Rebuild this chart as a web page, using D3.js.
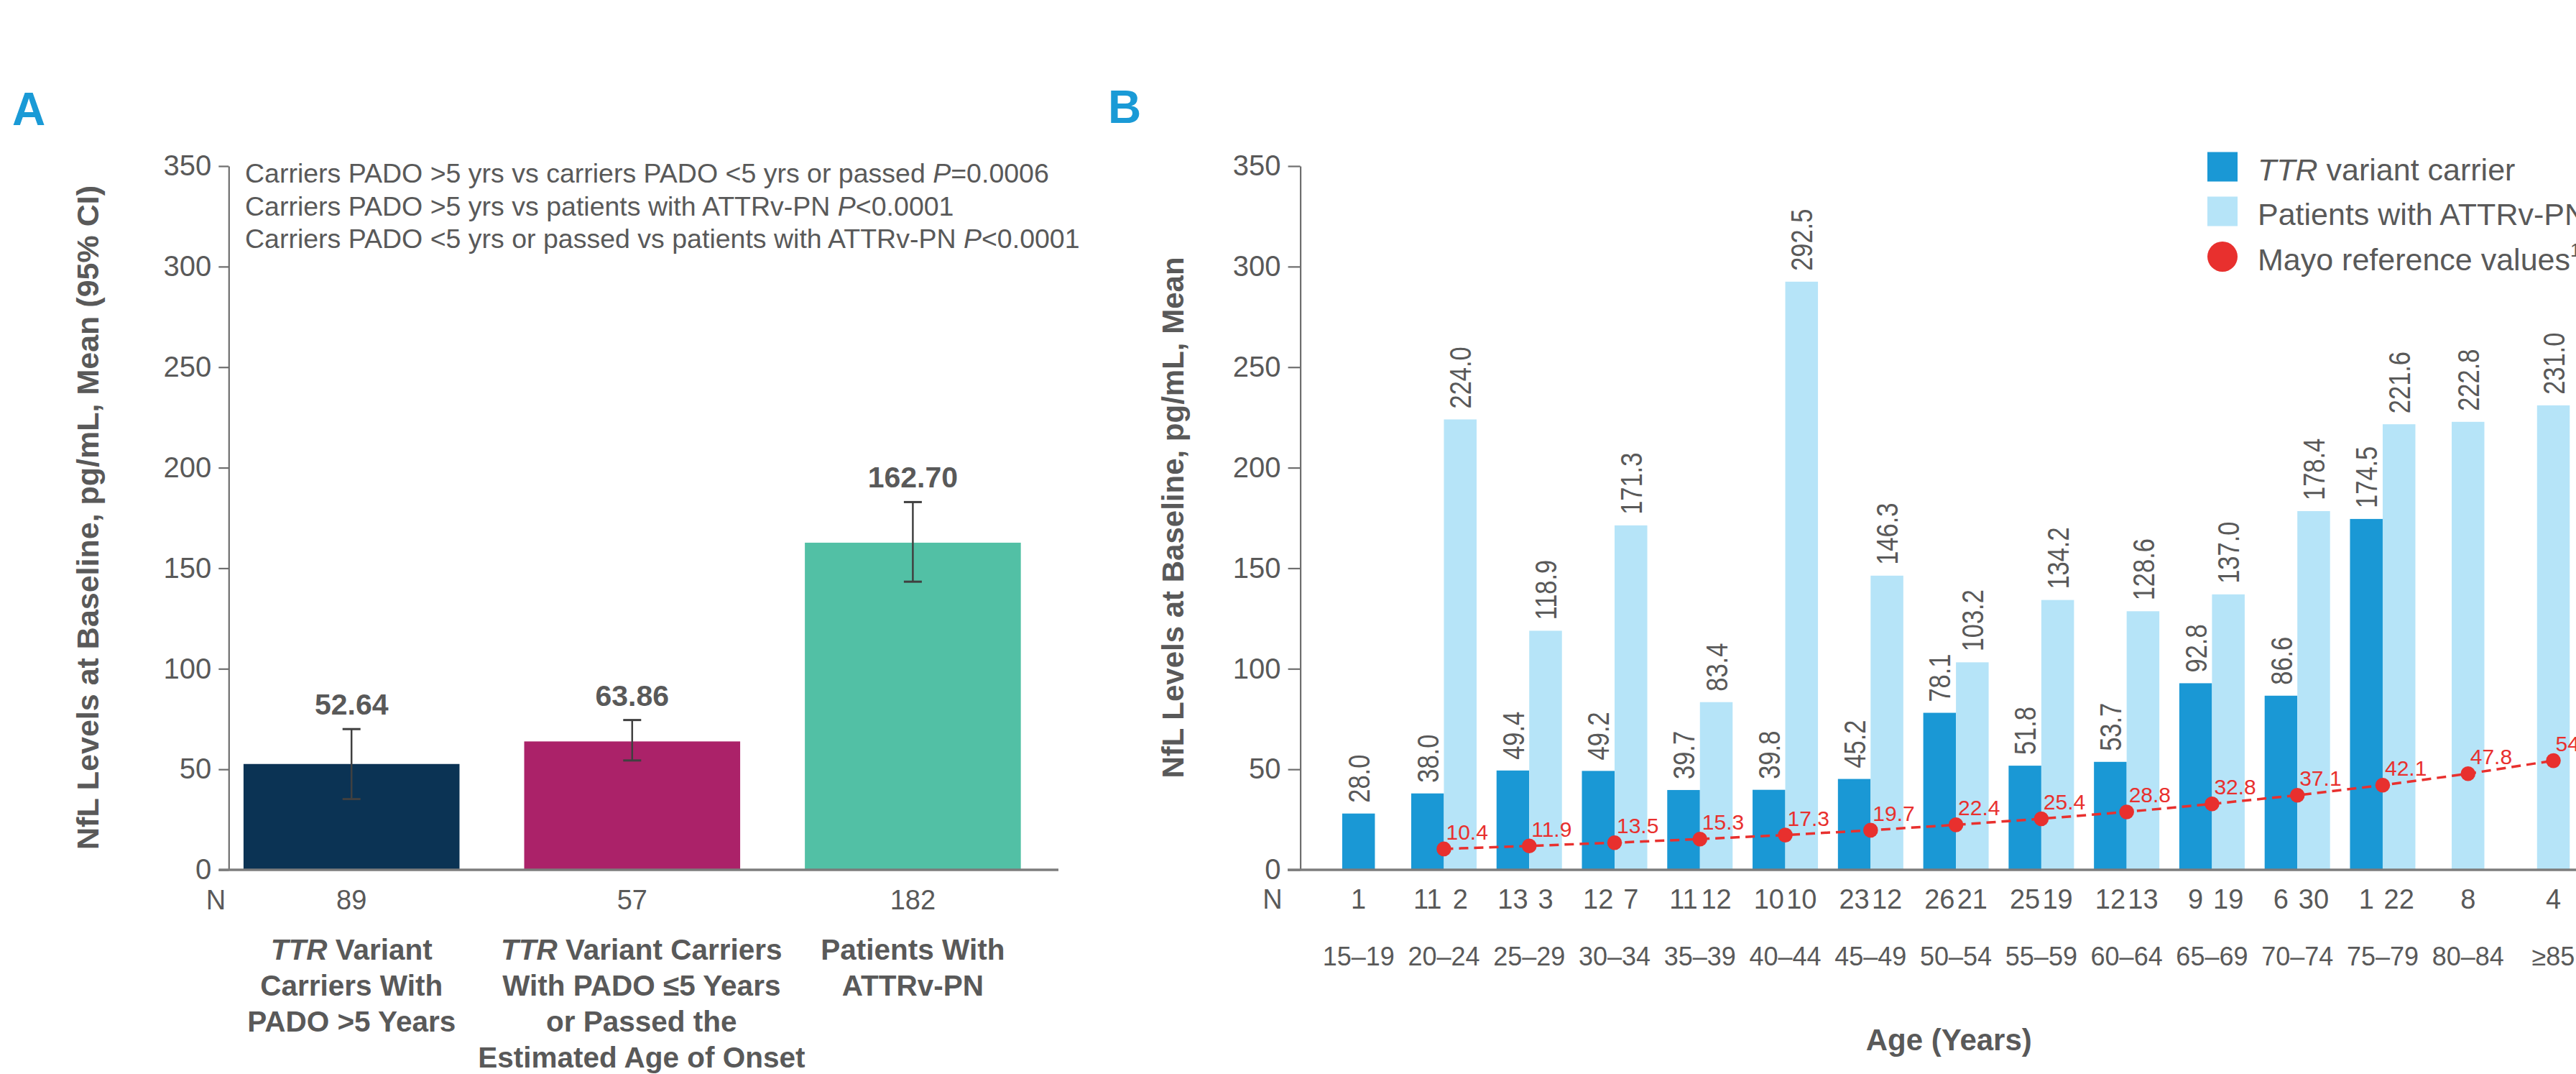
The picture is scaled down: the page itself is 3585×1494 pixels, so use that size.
<!DOCTYPE html>
<html>
<head>
<meta charset="utf-8">
<script src="https://cdn.jsdelivr.net/npm/d3@7"></script>
<style>
  html, body { margin: 0; padding: 0; background: #ffffff; overflow: hidden; }
  svg { display: block; }
  text { font-family: "Liberation Sans", Arial, Helvetica, sans-serif; fill: #595959; }
</style>
</head>
<body>
<svg id="chart" width="3585" height="1494"></svg>
<script>
// ---------- Panel A: NfL by PADO group ----------
const groupsA = ['carriersFar', 'carriersNear', 'patients'];
const meansA = [52.64, 63.86, 162.70];
const ciLowA = [35.2, 54.4, 143.3];
const ciHighA = [70.0, 74.5, 182.9];
const nA = [89, 57, 182];
const colorsA = ['#0b3354', '#ab2269', '#52c0a5'];
const catLinesA = [
  ['<i>TTR</i> Variant', 'Carriers With', 'PADO >5 Years'],
  ['<i>TTR</i> Variant Carriers', 'With PADO ≤5 Years', 'or Passed the', 'Estimated Age of Onset'],
  ['Patients With', 'ATTRv-PN']
];
const statLines = [
  'Carriers PADO >5 yrs vs carriers PADO <5 yrs or passed <i>P</i>=0.0006',
  'Carriers PADO >5 yrs vs patients with ATTRv-PN <i>P</i><0.0001',
  'Carriers PADO <5 yrs or passed vs patients with ATTRv-PN <i>P</i><0.0001'
];

// ---------- Panel B: NfL by age band ----------
const ageGroups = ['15–19', '20–24', '25–29', '30–34', '35–39', '40–44', '45–49', '50–54',
                   '55–59', '60–64', '65–69', '70–74', '75–79', '80–84', '≥85'];
const carrierMean = [28.0, 38.0, 49.4, 49.2, 39.7, 39.8, 45.2, 78.1, 51.8, 53.7, 92.8, 86.6, 174.5, null, null];
const patientMean = [null, 224.0, 118.9, 171.3, 83.4, 292.5, 146.3, 103.2, 134.2, 128.6, 137.0, 178.4, 221.6, 222.8, 231.0];
const carrierN = [1, 11, 13, 12, 11, 10, 23, 26, 25, 12, 9, 6, 1, null, null];
const patientN = [null, 2, 3, 7, 12, 10, 12, 21, 19, 13, 19, 30, 22, 8, 4];
const mayoRef = [null, 10.4, 11.9, 13.5, 15.3, 17.3, 19.7, 22.4, 25.4, 28.8, 32.8, 37.1, 42.1, 47.8, 54.3];
const seriesB = ['carrier', 'patient'];
const colorsB = { carrier: '#1a98d5', patient: '#b6e4f8' };
const mayoColor = '#e8302e';
const legendB = ['<i>TTR</i> variant carrier', 'Patients with ATTRv-PN', 'Mayo reference values<sup>1</sup>'];

const yTicks = [0, 50, 100, 150, 200, 250, 300, 350];

// ---------- helpers ----------
const svg = d3.select('#chart');
const axisColor = '#6e6e6e';
const baseColor = '#7c7c7c';
const fmt1 = d3.format('.1f');
const fmt2 = d3.format('.2f');

// writes a string with <i>…</i> and <sup>…</sup> runs as tspans
function richText(sel, str) {
  str.split(/(<i>[^<]*<\/i>|<sup>[^<]*<\/sup>)/).filter(s => s.length).forEach(part => {
    if (part.startsWith('<i>')) {
      sel.append('tspan').attr('font-style', 'italic').text(part.slice(3, -4));
    } else if (part.startsWith('<sup>')) {
      sel.append('tspan').attr('font-size', '0.6em').attr('dy', '-0.75em').text(part.slice(5, -6));
    } else {
      sel.append('tspan').text(part);
    }
  });
}

function styleAxis(g, fontSize) {
  g.select('.domain').attr('stroke', axisColor).attr('stroke-width', 2.2);
  g.selectAll('.tick line').attr('stroke', axisColor).attr('stroke-width', 2.2);
  g.selectAll('.tick text')
    .attr('fill', '#595959')
    .style('font-family', '"Liberation Sans", Arial, sans-serif')
    .style('font-size', fontSize + 'px');
}

// ================= Panel A =================
const yA = d3.scaleLinear().domain([0, 350]).range([1210, 231]);
const xA = d3.scaleBand().domain(groupsA).range([294, 1465.6]).paddingInner(0.2305).paddingOuter(0.115);
const axisXA = 318.3;

const gA = svg.append('g');

gA.append('text')
  .attr('x', 17).attr('y', 174)
  .attr('font-size', 64).attr('font-weight', 'bold')
  .style('fill', '#1a9ad6')
  .text('A');

// y axis
const yAxisA = gA.append('g')
  .attr('transform', `translate(${axisXA},0)`)
  .call(d3.axisLeft(yA).tickValues(yTicks).tickSizeInner(14).tickSizeOuter(0).tickPadding(10));
styleAxis(yAxisA, 40);

// axis title
gA.append('text')
  .attr('transform', `translate(137,720) rotate(-90)`)
  .attr('text-anchor', 'middle')
  .attr('font-size', 43).attr('font-weight', 'bold')
  .text('NfL Levels at Baseline, pg/mL, Mean (95% CI)');

// significance notes
statLines.forEach((s, i) => {
  const t = gA.append('text')
    .attr('x', 341).attr('y', 254 + i * 45.5)
    .attr('font-size', 37.5);
  richText(t, s);
});

// bars
gA.selectAll('rect.barA')
  .data(groupsA)
  .join('rect')
  .attr('class', 'barA')
  .attr('x', d => xA(d))
  .attr('width', xA.bandwidth())
  .attr('y', (d, i) => yA(meansA[i]))
  .attr('height', (d, i) => yA(0) - yA(meansA[i]))
  .attr('fill', (d, i) => colorsA[i]);

// baseline
gA.append('line')
  .attr('x1', 304.5).attr('x2', 1473)
  .attr('y1', yA(0)).attr('y2', yA(0))
  .attr('stroke', baseColor).attr('stroke-width', 3.5);

// confidence intervals
const errA = gA.selectAll('g.errA').data(groupsA).join('g').attr('class', 'errA')
  .attr('transform', d => `translate(${xA(d) + xA.bandwidth() / 2},0)`);
errA.append('line')
  .attr('y1', (d, i) => yA(ciLowA[i])).attr('y2', (d, i) => yA(ciHighA[i]))
  .attr('stroke', '#404040').attr('stroke-width', 2.5);
errA.append('line')
  .attr('x1', -12.5).attr('x2', 12.5)
  .attr('y1', (d, i) => yA(ciLowA[i])).attr('y2', (d, i) => yA(ciLowA[i]))
  .attr('stroke', '#404040').attr('stroke-width', 3);
errA.append('line')
  .attr('x1', -12.5).attr('x2', 12.5)
  .attr('y1', (d, i) => yA(ciHighA[i])).attr('y2', (d, i) => yA(ciHighA[i]))
  .attr('stroke', '#404040').attr('stroke-width', 3);

// mean labels
errA.append('text')
  .attr('y', (d, i) => yA(ciHighA[i]) - 20)
  .attr('text-anchor', 'middle')
  .attr('font-size', 41).attr('font-weight', 'bold')
  .text((d, i) => fmt2(meansA[i]));

// N row
gA.append('text')
  .attr('x', 300.5).attr('y', 1265)
  .attr('text-anchor', 'middle').attr('font-size', 38)
  .text('N');
gA.selectAll('text.nA').data(groupsA).join('text')
  .attr('class', 'nA')
  .attr('x', d => xA(d) + xA.bandwidth() / 2)
  .attr('y', 1265)
  .attr('text-anchor', 'middle').attr('font-size', 38)
  .text((d, i) => nA[i]);

// category labels
const labelShiftA = [0, 13, 0];
groupsA.forEach((g, i) => {
  catLinesA[i].forEach((line, j) => {
    const t = gA.append('text')
      .attr('x', xA(g) + xA.bandwidth() / 2 + labelShiftA[i])
      .attr('y', 1335 + j * 50)
      .attr('text-anchor', 'middle')
      .attr('font-size', 40.5).attr('font-weight', 'bold');
    richText(t, line);
  });
});

// ================= Panel B =================
const yB = d3.scaleLinear().domain([0, 350]).range([1210, 231]);
const xB = d3.scaleBand().domain(ageGroups).range([1831.3, 3612.9]).padding(0);
const barW = 45.5;
const xSub = d3.scaleBand().domain(seriesB).range([-barW, barW]);
const axisXB = 1809.6;
const centerB = a => xB(a) + xB.bandwidth() / 2;

const gB = svg.append('g');

gB.append('text')
  .attr('x', 1542).attr('y', 171)
  .attr('font-size', 64).attr('font-weight', 'bold')
  .style('fill', '#1a9ad6')
  .text('B');

const yAxisB = gB.append('g')
  .attr('transform', `translate(${axisXB},0)`)
  .call(d3.axisLeft(yB).tickValues(yTicks).tickSizeInner(17).tickSizeOuter(0).tickPadding(10));
styleAxis(yAxisB, 40);

gB.append('text')
  .attr('transform', `translate(1647,720) rotate(-90)`)
  .attr('text-anchor', 'middle')
  .attr('font-size', 42).attr('font-weight', 'bold')
  .text('NfL Levels at Baseline, pg/mL, Mean');

// flatten bars: side-by-side when both series exist, centred when only one
const barsB = [];
ageGroups.forEach((a, i) => {
  const vals = { carrier: carrierMean[i], patient: patientMean[i] };
  const ns = { carrier: carrierN[i], patient: patientN[i] };
  const present = seriesB.filter(s => vals[s] != null);
  present.forEach(s => {
    const x = present.length === 2 ? centerB(a) + xSub(s) : centerB(a) - barW / 2;
    barsB.push({ age: a, series: s, value: vals[s], n: ns[s], x });
  });
});

gB.selectAll('rect.barB').data(barsB).join('rect')
  .attr('class', 'barB')
  .attr('x', d => d.x)
  .attr('width', barW)
  .attr('y', d => yB(d.value))
  .attr('height', d => yB(0) - yB(d.value))
  .attr('fill', d => colorsB[d.series]);

// baseline
gB.append('line')
  .attr('x1', 1792).attr('x2', 3620)
  .attr('y1', yB(0)).attr('y2', yB(0))
  .attr('stroke', baseColor).attr('stroke-width', 3.5);

// rotated value labels (narrow face)
gB.selectAll('text.valB').data(barsB).join('text')
  .attr('class', 'valB')
  .attr('transform', d => `translate(${d.x + barW / 2},${yB(d.value) - 15}) rotate(-90) scale(0.82,1)`)
  .attr('dy', '0.36em')
  .attr('font-size', 42)
  .text(d => fmt1(d.value));

// Mayo reference line
const mayoPts = ageGroups.map((a, i) => ({ x: centerB(a), v: mayoRef[i] })).filter(d => d.v != null);
gB.append('path')
  .datum(mayoPts)
  .attr('d', d3.line().x(d => d.x).y(d => yB(d.v)))
  .attr('fill', 'none')
  .attr('stroke', mayoColor).attr('stroke-width', 3.5)
  .attr('stroke-dasharray', '13,8');
gB.selectAll('circle.mayo').data(mayoPts).join('circle')
  .attr('class', 'mayo')
  .attr('cx', d => d.x).attr('cy', d => yB(d.v)).attr('r', 10.3)
  .attr('fill', mayoColor);
gB.selectAll('text.mayoLbl').data(mayoPts).join('text')
  .attr('class', 'mayoLbl')
  .attr('x', d => d.x + 3).attr('y', d => yB(d.v) - 13)
  .attr('font-size', 30)
  .style('fill', mayoColor)
  .text(d => fmt1(d.v));

// N row
gB.append('text')
  .attr('x', 1771).attr('y', 1264)
  .attr('text-anchor', 'middle').attr('font-size', 38)
  .text('N');
gB.selectAll('text.nB').data(barsB).join('text')
  .attr('class', 'nB')
  .attr('x', d => d.x + barW / 2).attr('y', 1264)
  .attr('text-anchor', 'middle').attr('font-size', 38)
  .text(d => d.n);

// age band labels
gB.selectAll('text.ageB').data(ageGroups).join('text')
  .attr('class', 'ageB')
  .attr('x', d => centerB(d)).attr('y', 1343)
  .attr('text-anchor', 'middle').attr('font-size', 36)
  .text(d => d);

gB.append('text')
  .attr('x', (axisXB + 3612.9) / 2 + 1).attr('y', 1461)
  .attr('text-anchor', 'middle')
  .attr('font-size', 42).attr('font-weight', 'bold')
  .text('Age (Years)');

// legend
const legY = [232, 294, 357];
const legG = gB.append('g');
legG.append('rect').attr('x', 3072).attr('y', 211.5).attr('width', 42).attr('height', 41).attr('fill', colorsB.carrier);
legG.append('rect').attr('x', 3072).attr('y', 273.5).attr('width', 42).attr('height', 41).attr('fill', colorsB.patient);
legG.append('circle').attr('cx', 3093).attr('cy', 357).attr('r', 21).attr('fill', mayoColor);
legendB.forEach((s, i) => {
  const t = legG.append('text')
    .attr('x', 3142).attr('y', legY[i] + 19)
    .attr('font-size', 43);
  richText(t, s);
});
</script>
</body>
</html>
